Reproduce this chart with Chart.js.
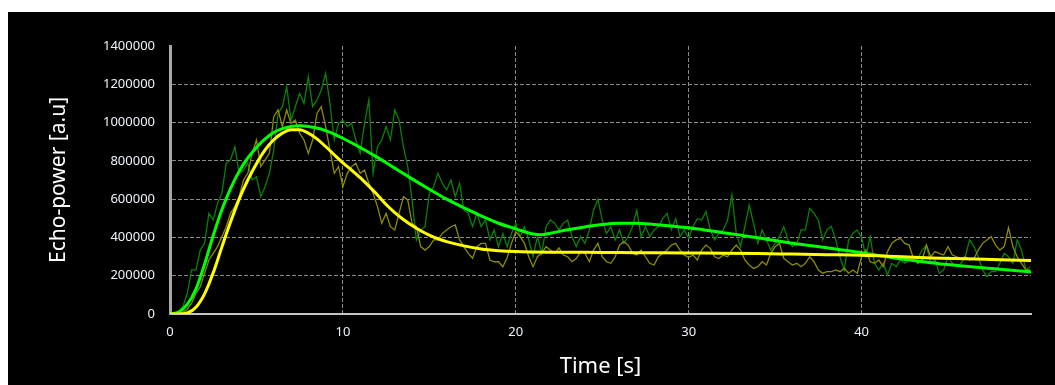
<!DOCTYPE html>
<html>
<head>
<meta charset="utf-8">
<script src="https://cdn.jsdelivr.net/npm/chart.js@4"></script>
<style>
  html, body { margin: 0; padding: 0; background: #fff; }
  #wrap { position: absolute; left: 8px; top: 12px; width: 1047px; height: 373px; background: #000; }
</style>
</head>
<body>
<div id="wrap"><canvas id="chart"></canvas></div>
<script>
// Raw echo-power samples, one every 0.25 s starting at 0 s (values in thousands of a.u.)
const rawStep = 0.25;
const rawGreen = [
  0, 5, 12, 40, 108, 230, 230, 334, 369, 526, 491, 578, 630, 787, 805, 874,
  735, 752, 787, 700, 717, 613, 665, 735, 857, 1048, 1083, 1187, 1013, 1083, 1153, 1100,
  1240, 1083, 1118, 1170, 1257, 1100, 909, 996, 1013, 979, 996, 909, 839, 996, 1118, 735,
  874, 909, 979, 909, 1066, 1013, 874, 770, 596, 387, 439, 456, 630, 665, 735, 683,
  648, 700, 613, 683, 543, 526, 456, 526, 456, 491, 387, 439, 352, 421, 352, 421,
  474, 404, 456, 387, 299, 404, 317, 456, 491, 474, 439, 474, 491, 404, 352, 404,
  369, 439, 543, 600, 491, 421, 456, 387, 439, 369, 404, 456, 543, 404, 456, 404,
  439, 456, 498, 526, 439, 498, 404, 439, 395, 456, 498, 491, 535, 439, 387, 421,
  439, 491, 622, 421, 352, 456, 569, 474, 369, 439, 387, 334, 369, 404, 456, 387,
  352, 369, 439, 439, 552, 526, 491, 387, 439, 458, 387, 299, 230, 387, 421, 439,
  400, 299, 404, 265, 230, 265, 204, 265, 247, 282, 265, 282, 299, 290, 334, 360,
  265, 282, 213, 230, 299, 265, 247, 265, 299, 387, 352, 299, 230, 195, 221, 221,
  265, 317, 299, 265, 387, 334, 230, 247
];
const rawYellow = [
  0, 0, 3, 10, 25, 56, 108, 143, 213, 282, 317, 352, 404, 456, 526, 561,
  613, 700, 735, 839, 909, 770, 805, 839, 1031, 1066, 979, 1066, 996, 1013, 944, 909,
  839, 909, 1048, 1083, 979, 857, 735, 770, 665, 735, 770, 787, 735, 752, 683, 630,
  561, 474, 526, 456, 439, 526, 613, 596, 474, 456, 352, 334, 352, 387, 387, 421,
  439, 456, 465, 387, 352, 317, 291, 352, 369, 369, 282, 273, 273, 247, 294, 369,
  430, 404, 369, 299, 247, 299, 317, 352, 334, 317, 345, 308, 299, 273, 290, 326,
  317, 273, 334, 369, 299, 273, 265, 299, 360, 378, 360, 317, 308, 334, 299, 265,
  256, 299, 317, 334, 360, 369, 334, 308, 295, 308, 282, 334, 360, 343, 299, 290,
  308, 299, 334, 360, 334, 282, 256, 238, 247, 273, 256, 317, 352, 369, 290, 273,
  256, 265, 247, 265, 299, 273, 230, 213, 221, 221, 230, 221, 238, 213, 230, 213,
  299, 334, 273, 265, 282, 247, 326, 369, 387, 395, 369, 360, 290, 265, 282, 360,
  299, 326, 317, 308, 352, 308, 299, 290, 299, 282, 290, 334, 369, 387, 404, 360,
  334, 352, 451, 352, 299, 265, 230, 230
];

// Smoothed fits (time in s, values in thousands of a.u.)
const fitGreenTime = [0, 0.5, 1, 1.5, 2, 2.5, 3, 3.5, 4, 4.5, 5, 5.5, 6, 6.5, 7, 7.5, 8, 8.5, 9, 9.5, 10,
  11, 12, 13, 14, 15, 16, 17, 18, 19, 20, 21, 21.5, 22, 23, 24, 25, 26, 27, 28, 29, 30,
  31, 32, 33, 34, 35, 36, 37, 38, 39, 40, 41, 42, 43, 44, 45, 46, 47, 48, 49, 49.8];
const fitGreen = [0, 10, 50, 130, 260, 410, 545, 655, 745, 815, 870, 915, 948, 968, 980, 983, 980, 972, 958, 940, 918,
  870, 818, 762, 706, 652, 600, 555, 512, 474, 445, 418, 414, 422, 440, 455, 468, 474, 474, 468, 460, 450,
  438, 425, 412, 398, 384, 370, 358, 346, 333, 320, 305, 291, 279, 268, 258, 250, 242, 234, 226, 220];
const fitYellowTime = [0, 0.5, 1, 1.5, 2, 2.5, 3, 3.5, 4, 4.5, 5, 5.5, 6, 6.5, 7, 7.5, 8, 8.5, 9, 9.5, 10,
  10.5, 11, 11.5, 12, 12.5, 13, 13.5, 14, 14.5, 15, 15.5, 16, 17, 18, 19, 20, 21, 22, 24, 26, 28,
  30, 32, 34, 36, 38, 40, 42, 44, 46, 48, 49.8];
const fitYellow = [0, 0, 5, 35, 105, 215, 350, 480, 600, 700, 785, 857, 910, 945, 963, 962, 945, 915, 875, 832, 790,
  752, 712, 668, 622, 572, 530, 494, 462, 435, 412, 393, 378, 356, 340, 331, 326, 324, 323, 322, 321, 320,
  319, 318, 316, 313, 310, 307, 300, 293, 288, 284, 280];

const xTicks = [0, 10, 20, 30, 40];
const yTicks = [0, 200000, 400000, 600000, 800000, 1000000, 1200000, 1400000];

const rawPoints = (vals) => vals.map((v, i) => ({ x: i * rawStep, y: v * 1000 }));
const fitPoints = (ts, vals) => ts.map((t, i) => ({ x: t, y: vals[i] * 1000 }));

const font = "'Noto Sans', 'DejaVu Sans', sans-serif";
const gridColor = "#8a8a8a";

new Chart(document.getElementById("chart"), {
  type: "line",
  data: {
    datasets: [
      { label: "Fit yellow", data: fitPoints(fitYellowTime, fitYellow), borderColor: "#ffff00", borderWidth: 3, cubicInterpolationMode: "monotone" },
      { label: "Fit green", data: fitPoints(fitGreenTime, fitGreen), borderColor: "#00ff00", borderWidth: 3, cubicInterpolationMode: "monotone" },
      { label: "Raw yellow", data: rawPoints(rawYellow), borderColor: "#8c8c00", borderWidth: 1.3, tension: 0 },
      { label: "Raw green", data: rawPoints(rawGreen), borderColor: "#078207", borderWidth: 1.3, tension: 0 }
    ]
  },
  options: {
    responsive: true,
    maintainAspectRatio: false,
    animation: false,
    events: [],
    elements: { point: { radius: 0 } },
    layout: { padding: { left: 0, top: 34, right: 24, bottom: 0 } },
    plugins: { legend: { display: false }, tooltip: { enabled: false } },
    scales: {
      x: {
        type: "linear",
        min: 0,
        max: 49.8,
        afterFit: (s) => { s.height = 71; },
        afterBuildTicks: (s) => { s.ticks = xTicks.map(v => ({ value: v })); },
        ticks: { color: "#eef3fb", padding: 10, font: { family: font, size: 13 }, maxRotation: 0 },
        grid: {
          drawTicks: false,
          color: (c) => (c.tick && c.tick.value > 0) ? gridColor : "rgba(0,0,0,0)",
          lineWidth: 1
        },
        border: { display: true, color: "#c4c4c4", width: 2, dash: [4, 2] },
        title: { display: true, text: "Time [s]", color: "#ffffff", font: { family: font, size: 22 }, padding: { top: 4, bottom: 5 } }
      },
      y: {
        min: 0,
        max: 1400000,
        afterFit: (s) => { s.width = 162; },
        afterBuildTicks: (s) => { s.ticks = yTicks.map(v => ({ value: v })); },
        ticks: { color: "#eef3fb", padding: 15, font: { family: font, size: 13 }, callback: (v) => String(v) },
        grid: {
          drawTicks: false,
          color: (c) => (c.tick && c.tick.value > 0 && c.tick.value < 1400000) ? gridColor : "rgba(0,0,0,0)",
          lineWidth: 1
        },
        border: { display: true, color: "#a8a8a8", width: 3, dash: [4, 2] },
        title: { display: true, text: "Echo-power [a.u]", color: "#ffffff", font: { family: font, size: 21 }, padding: { top: 38, bottom: 0 } }
      }
    }
  }
});
</script>
</body>
</html>
